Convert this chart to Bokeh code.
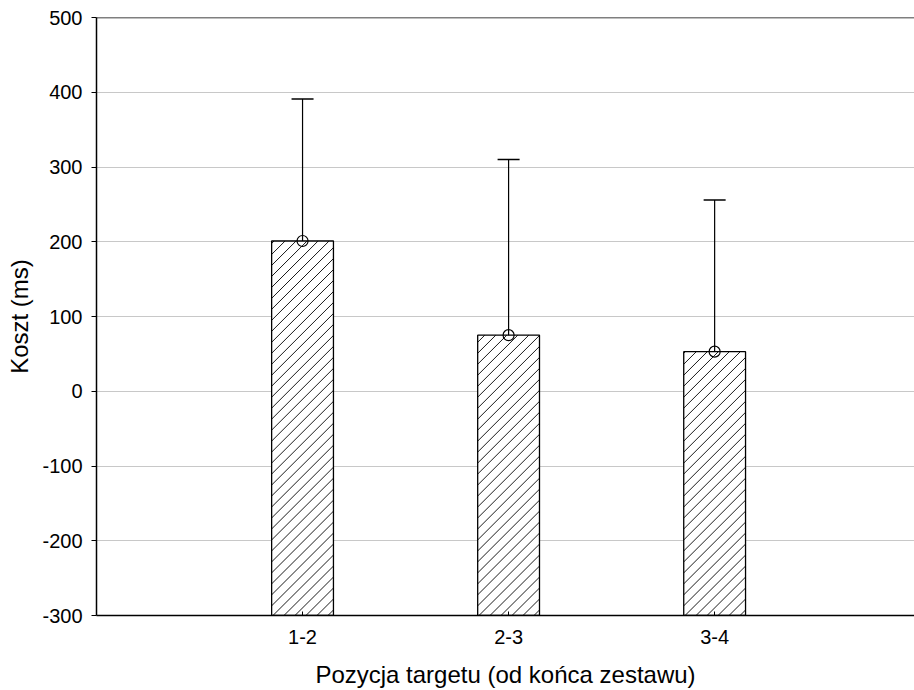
from bokeh.plotting import figure
from bokeh.models import ColumnDataSource, FixedTicker, Span, Whisker
from bokeh.embed import file_html
from bokeh.resources import INLINE

categories = ["1-2", "2-3", "3-4"]
means = [201, 75, 53]
upper = [391, 310, 256]
lower = [10, -161, -150]
y_ticks = [-300, -200, -100, 0, 100, 200, 300, 400, 500]

xpos = [1, 2, 3]
bar_width = 0.30
X_RANGE = (0, 3.97)
Y_RANGE = (-300, 500)
W, H = 914, 690
BL, BR, BT, BB = 96, 0, 17, 74

src = ColumnDataSource(dict(x=xpos, mean=means, upper=upper, lower=lower, cat=categories))

p = figure(width=W, height=H, output_backend="svg", toolbar_location=None,
           x_range=X_RANGE, y_range=Y_RANGE,
           min_border_left=BL, min_border_right=BR, min_border_top=BT, min_border_bottom=BB)
p.outline_line_color = None
p.background_fill_color = "white"

# 45-degree hatching (screen space), derived from the bar geometry
sx = (W - BL - BR) / (X_RANGE[1] - X_RANGE[0])
sy = (H - BT - BB) / (Y_RANGE[1] - Y_RANGE[0])
spacing = 11.0
hx, hy = [], []
for xc, top in zip(xpos, means):
    x0 = xc - bar_width / 2
    y0 = Y_RANGE[0]
    wpx = bar_width * sx
    hpx = (top - y0) * sy
    c = -wpx + spacing / 2
    while c < hpx:
        a = max(0.0, -c)
        b = min(wpx, hpx - c)
        if b > a:
            hx.append([x0 + a / sx, x0 + b / sx])
            hy.append([y0 + (a + c) / sy, y0 + (b + c) / sy])
        c += spacing

p.vbar(x="x", top="mean", bottom=Y_RANGE[0], width=bar_width, source=src,
       fill_color="white", line_color=None)
p.multi_line(hx, hy, line_color="black", line_width=0.9)
p.vbar(x="x", top="mean", bottom=Y_RANGE[0], width=bar_width, source=src,
       fill_color=None, line_color="black", line_width=1.3)

w = Whisker(base="x", upper="upper", lower="lower", source=src,
            line_color="black", line_width=1.2)
w.upper_head.size = 22
w.lower_head.size = 22
w.upper_head.line_width = 1.5
w.lower_head.line_width = 1.5
p.add_layout(w)

p.scatter(x="x", y="mean", source=src, size=11, marker="circle",
          fill_color=None, line_color="black", line_width=1.2)

p.add_layout(Span(location=Y_RANGE[1], dimension="width", line_color="black", line_width=1.5))

p.xaxis.ticker = FixedTicker(ticks=xpos)
p.xaxis.major_label_overrides = {i + 1: c for i, c in enumerate(categories)}
p.yaxis.ticker = FixedTicker(ticks=y_ticks)
p.yaxis.major_label_overrides = {t: str(t) for t in y_ticks}

p.xgrid.grid_line_color = None
p.ygrid.grid_line_color = "#c8c8c8"
p.ygrid.grid_line_width = 1

for ax in (p.xaxis, p.yaxis):
    ax.axis_line_color = "black"
    ax.axis_line_width = 1.5
    ax.major_tick_line_color = "black"
    ax.minor_tick_line_color = None
    ax.major_label_text_font = "Liberation Sans"
    ax.major_label_text_font_size = "20px"
    ax.major_label_text_color = "black"
    ax.axis_label_text_font = "Liberation Sans"
    ax.axis_label_text_font_size = "24px"
    ax.axis_label_text_font_style = "normal"
    ax.axis_label_text_color = "black"

p.xaxis.major_tick_in = 4
p.xaxis.major_tick_out = 0
p.yaxis.major_tick_in = 0
p.yaxis.major_tick_out = 5
p.xaxis.major_label_standoff = 14
p.yaxis.major_label_standoff = 9

p.xaxis.axis_label = "Pozycja targetu (od końca zestawu)"
p.yaxis.axis_label = "Koszt (ms)"
p.xaxis.axis_label_standoff = 14
p.yaxis.axis_label_standoff = 6

open("out.html", "w").write(file_html(p, INLINE))
